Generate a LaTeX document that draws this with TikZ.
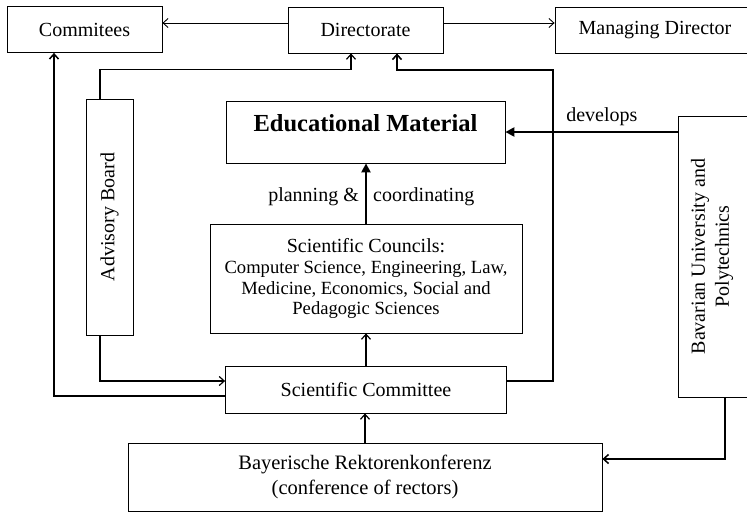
\documentclass[tikz,border=0pt]{standalone}
\usepackage{fontspec}
\setmainfont{Liberation Serif}
\usetikzlibrary{arrows.meta,calc}
\begin{document}
\begin{tikzpicture}[x=1pt,y=-1pt,
  box/.style={draw, line width=0.8pt, inner sep=0pt, align=center,
    font=\fontsize{20}{24}\selectfont},
  conn/.style={line width=1.2pt, -{Straight Barb[length=5pt,width=9pt]}},
  thinconn/.style={line width=0.9pt, -{Straight Barb[length=5pt,width=9pt]}},
  bigconn/.style={line width=2.6pt, -{Triangle[length=9pt,width=9pt]}},
  lbl/.style={inner sep=0pt, font=\fontsize{20}{24}\selectfont}]
\useasboundingbox (0,0) rectangle (747,512);
\clip (0,0) rectangle (747,512);

% nodes
\node[box, minimum width=155, minimum height=46] (comm) at (84.5,29.5) {Commitees};
\node[box, minimum width=155, minimum height=46] (dir) at (365.5,30) {Directorate};
\node[box, minimum width=200, minimum height=46] (md) at (655,30) {Managing Director};
\node[box, rotate=90, minimum width=236, minimum height=47] (adv) at (109.5,217) {Advisory Board\rule[-3pt]{0pt}{3pt}};
\node[box, minimum width=279, minimum height=62, text depth=18pt,
  font=\bfseries\fontsize{24.5}{29}\selectfont] (edu) at (365.5,132) {Educational Material};
\node[box, minimum width=312, minimum height=109,
  font=\fontsize{18.6}{20.5}\selectfont] (sc) at (366,278.5)
  {{\fontsize{20}{23}\selectfont Scientific Councils:}\\[1pt]
   Computer Science, Engineering, Law,\\
   Medicine, Economics, Social and\\
   Pedagogic Sciences};
\node[box, minimum width=281, minimum height=47] (scom) at (366,389.5) {Scientific Committee};
\node[box, minimum width=474, minimum height=68,
  font=\fontsize{20.5}{25}\selectfont] (bay) at (365,477)
  {Bayerische Rektorenkonferenz\\(conference of rectors)};
\node[box, rotate=90, minimum width=281, minimum height=74] (bav) at (715,256.5)
  {Bavarian University and\\Polytechnics\rule[-10pt]{0pt}{10pt}};

% labels
\node[lbl, anchor=east] (plan) at (359,197) {planning \&};
\node[lbl, anchor=west] (coord) at (373,197) {coordinating};

% connectors
\draw[thinconn] ([yshift=7pt]dir.west) -- ([yshift=7pt]dir.west -| comm.east);
\draw[thinconn] ([yshift=7pt]dir.east) -- ([yshift=7pt]dir.east -| md.west);
\draw[conn] ([xshift=-9.5pt]adv.east) -- ++(0,-29) -| ([xshift=-14.5pt]dir.south);
\draw[conn, line width=1.6pt] ([yshift=8.5pt]scom.east) -| (553,70) -| ([xshift=31.5pt]dir.south);
\draw[conn, line width=1.5pt] ([yshift=-6.5pt]scom.west) -| ([xshift=-30.5pt]comm.south);
\draw[conn] ([xshift=-9.5pt]adv.west) |- ([yshift=8.5pt]scom.west);
\draw[bigconn] (sc.north) -- (sc.north |- edu.south);
\draw[conn] (scom.north) -- (scom.north |- sc.south);
\draw[conn] (bay.north) -- (bay.north |- scom.south);
\draw[bigconn] (bav.north |- edu.east) -- node[lbl, above=5pt, pos=0.44] (dev) {develops} (edu.east);
\draw[conn, line width=1.5pt] ([xshift=10pt]bav.west) |- ([yshift=18pt]bay.east);
\end{tikzpicture}
\end{document}
